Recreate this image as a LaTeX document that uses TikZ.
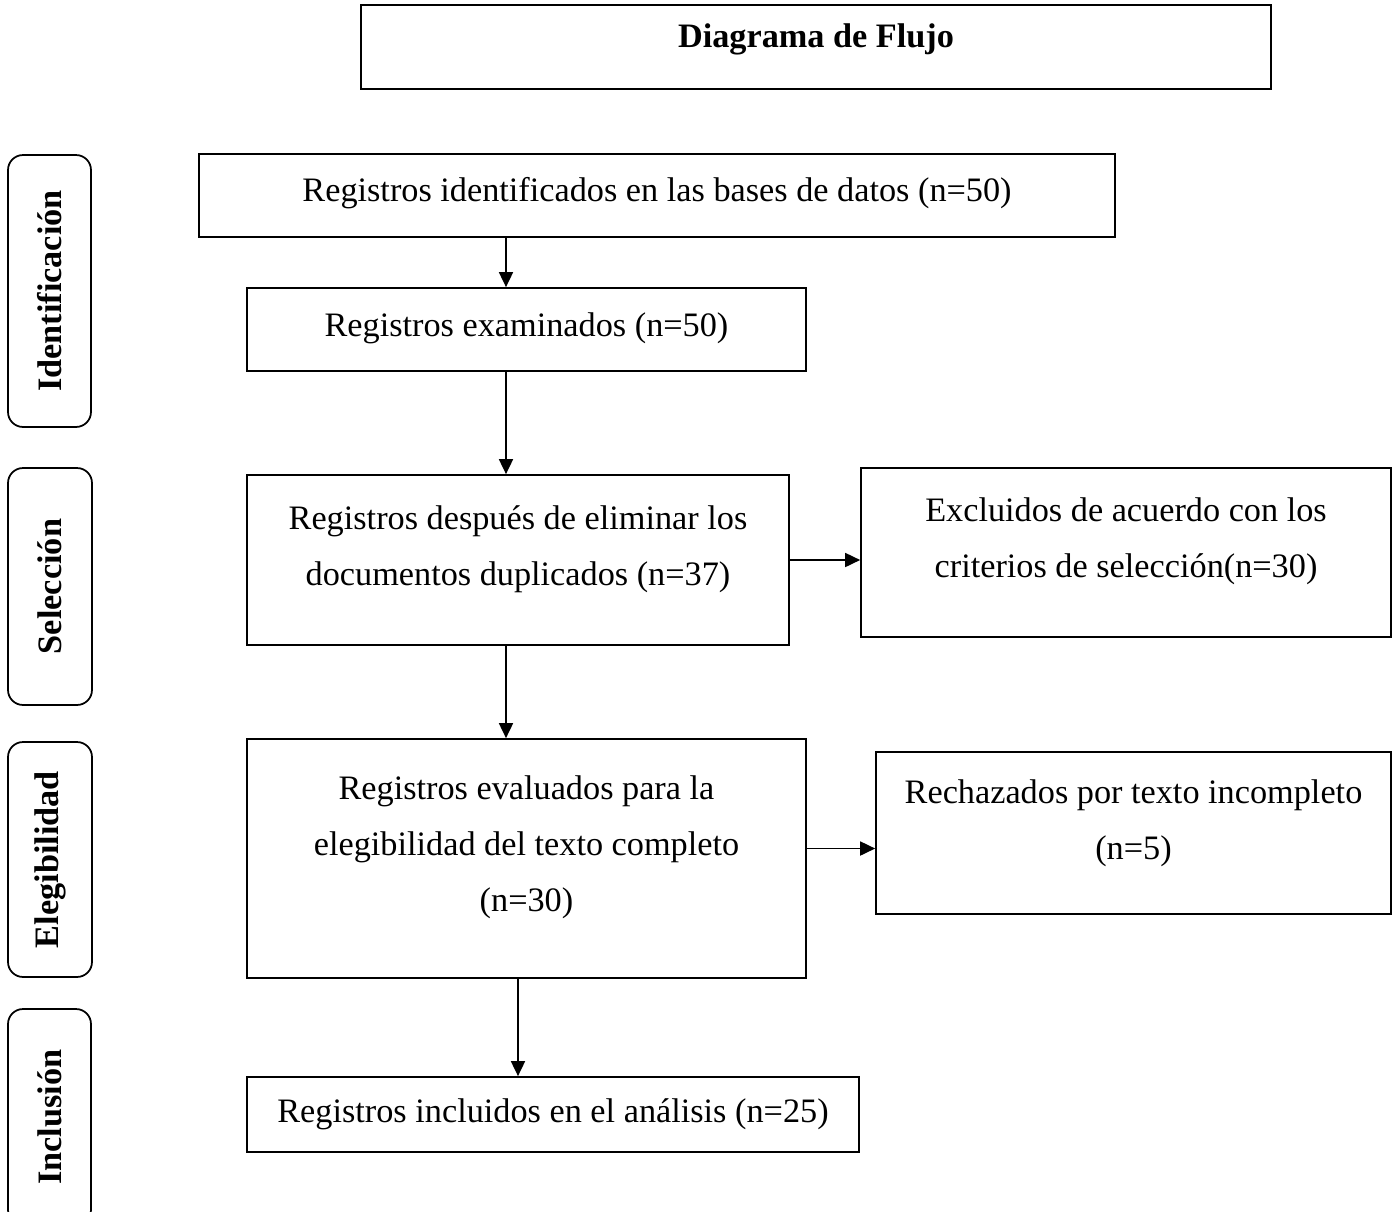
\documentclass[tikz,border=0pt]{standalone}
\usepackage{fontspec}
\setmainfont{Liberation Serif}
\usetikzlibrary{arrows.meta}

% text sits a little above the middle of each box
\newcommand{\liftup}[2]{\raisebox{#1}[\height][\depth]{\begin{tabular}{@{}c@{}}#2\end{tabular}}}

\tikzset{
  box/.style={draw, line width=1pt, align=center, inner sep=0pt,
    font=\fontsize{19.5}{32}\selectfont},
  phase/.style={draw, line width=1pt, rounded corners=0.3cm, rotate=90,
    inner sep=0pt, font=\bfseries\fontsize{19.5}{22}\selectfont},
  arr/.style={-{Triangle[width=0.28cm,length=0.3cm]}, line width=1pt}
}

\begin{document}
\begin{tikzpicture}[x=0.02cm, y=-0.02cm]
    \useasboundingbox (0,0) rectangle (1397,1211);

    % title
    \node[box, minimum width=18.2cm, minimum height=1.68cm,
      font=\bfseries\fontsize{19.5}{22}\selectfont] (title) at (816,47)
      {\liftup{0.14cm}{Diagrama de Flujo}};

    % phases on the left
    \node[phase, minimum width=5.44cm, minimum height=1.66cm] (ident) at (49.5,291) {Identificación};
    \node[phase, minimum width=4.74cm, minimum height=1.68cm] (selec) at (50,586.5) {Selección};
    \node[phase, minimum width=4.70cm, minimum height=1.68cm] (elegi) at (50,859.5) {Elegibilidad};
    \node[phase, minimum width=4.32cm, minimum height=1.66cm] (inclu) at (49.5,1117) {Inclusión};

    % main column
    \node[box, minimum width=18.32cm, minimum height=1.66cm] (ident1) at (657,195.5)
      {\liftup{0.1cm}{Registros identificados en las bases de datos (n=50)}};
    \node[box, minimum width=11.18cm, minimum height=1.66cm] (exam) at (526.5,329.5)
      {\liftup{0.08cm}{Registros examinados (n=50)}};
    \node[box, minimum width=10.84cm, minimum height=3.40cm] (dupl) at (518,560)
      {\liftup{0.28cm}{Registros después de eliminar los\\documentos duplicados (n=37)}};
    \node[box, minimum width=11.18cm, minimum height=4.78cm] (eval) at (526.5,858.5)
      {\liftup{0.28cm}{Registros evaluados para la\\elegibilidad del texto completo\\(n=30)}};
    \node[box, minimum width=12.24cm, minimum height=1.50cm] (incl) at (553,1114.5)
      {Registros incluidos en el análisis (n=25)};

    % side boxes
    \node[box, minimum width=10.60cm, minimum height=3.38cm] (excl) at (1126,552.5)
      {\liftup{0.28cm}{Excluidos de acuerdo con los\\criterios de selección(n=30)}};
    \node[box, minimum width=10.30cm, minimum height=3.24cm] (rech) at (1133.5,833)
      {\liftup{0.26cm}{Rechazados por texto incompleto\\(n=5)}};

    % arrows
    \coordinate (spine) at (506,0);
    \coordinate (spineb) at (518,0);
    \coordinate (evalout) at ([yshift=0.2cm]eval.east);
    \draw[arr] (ident1.south -| spine) -- (exam.north -| spine);
    \draw[arr] (exam.south -| spine) -- (dupl.north -| spine);
    \draw[arr] (dupl.south -| spine) -- (eval.north -| spine);
    \draw[arr] (eval.south -| spineb) -- (incl.north -| spineb);
    \draw[arr] (dupl.east) -- (excl.west |- dupl.east);
    \draw[arr] (evalout) -- (rech.west |- evalout);
\end{tikzpicture}
\end{document}
